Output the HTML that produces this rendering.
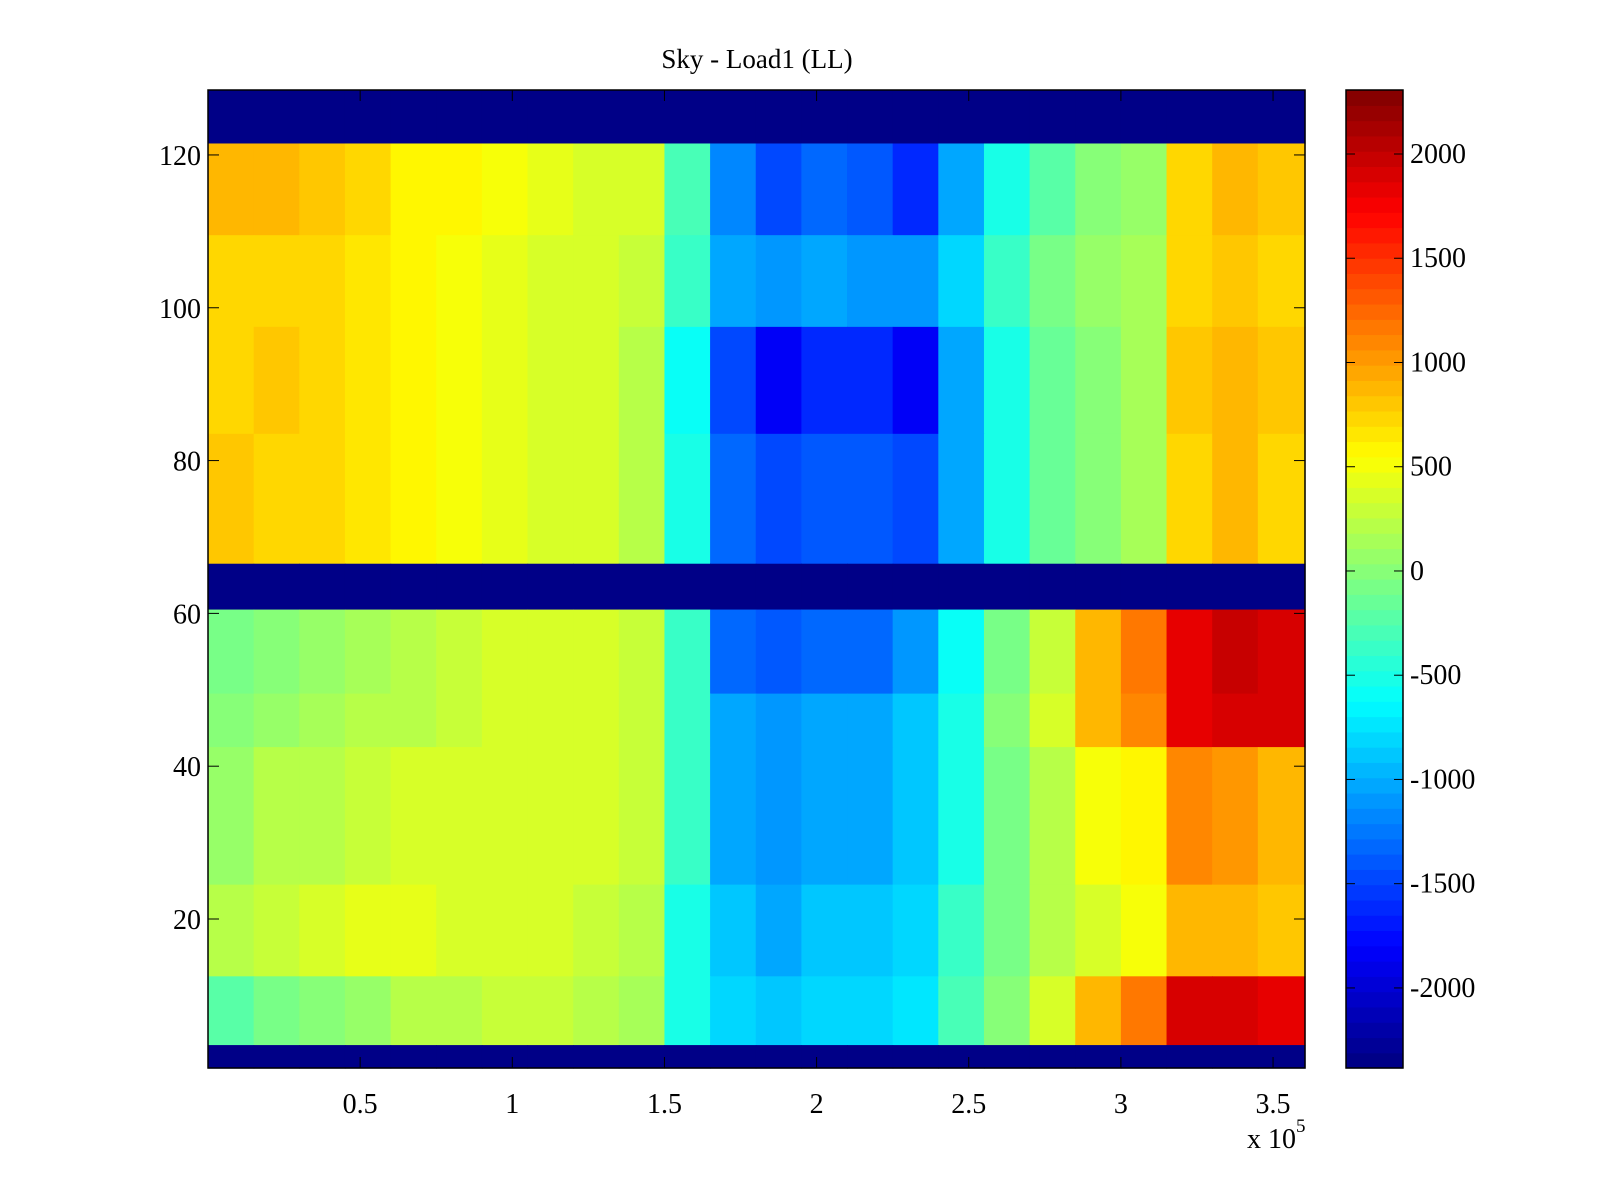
<!DOCTYPE html>
<html><head><meta charset="utf-8"><style>
html,body{margin:0;padding:0;background:#fff;}
body{width:1600px;height:1200px;overflow:hidden;position:relative;font-family:"Liberation Serif",serif;}
</style></head><body>
<svg id="chart" width="1600" height="1200" xmlns="http://www.w3.org/2000/svg" style="position:absolute;left:0;top:0;font-family:'Liberation Serif',serif">
<text x="757" y="68" font-size="27" text-anchor="middle">Sky - Load1 (LL)</text>
<g id="cells"></g>
<g id="cbar"></g>
<g id="axes"></g>
</svg>
<script>
const xTicks=[0.5,1,1.5,2,2.5,3,3.5];
const yTicks=[20,40,60,80,100,120];
const cTicks=[-2000,-1500,-1000,-500,0,500,1000,1500,2000];
const colEdges=[0,0.15,0.3,0.45,0.6,0.75,0.9,1.05,1.2,1.35,1.5,1.65,1.8,1.95,2.1,2.25,2.4,2.55,2.7,2.85,3.0,3.15,3.3,3.45,3.605];
const bandLo=[122,110,98,84,67,61,50,43,25,13,4,1];
const bandHi=[128,121,109,97,83,66,60,49,42,24,12,3];
const B=[850,850,800,700,600,550,500,450,400,350,-300,-1200,-1500,-1300,-1400,-1600,-1000,-500,-200,0,100,700,900,800];
const C=[700,750,700,650,550,500,450,400,350,300,-400,-1000,-1100,-1000,-1100,-1100,-800,-400,-100,50,150,700,800,700];
const D=[750,800,750,650,550,500,450,400,350,250,-600,-1500,-1800,-1600,-1600,-1800,-1000,-500,-150,0,150,800,900,800];
const E=[800,750,700,650,550,500,450,400,350,250,-500,-1300,-1500,-1400,-1400,-1500,-1000,-500,-150,0,150,750,850,750];
const G=[-100,0,100,150,250,300,350,400,350,300,-400,-1300,-1400,-1300,-1300,-1100,-600,-100,300,900,1200,1800,2000,1900];
const H=[0,100,150,200,250,300,350,400,350,300,-400,-1000,-1100,-1000,-1000,-900,-500,0,400,900,1100,1800,1900,1900];
const I=[100,200,250,300,350,400,400,400,350,300,-400,-1000,-1100,-1000,-1000,-900,-500,-100,200,500,600,1100,1000,900];
const J=[200,300,400,450,450,400,400,350,300,250,-500,-900,-1000,-900,-900,-800,-400,-100,200,400,500,900,900,800];
const K=[-200,-100,0,100,200,250,300,300,250,150,-500,-800,-900,-800,-800,-700,-300,0,400,900,1200,1900,1900,1800];
const MINV=-2384, MAXV=2307;
const blank=new Array(24).fill(MINV);
const bandVals=[blank,B,C,D,E,blank,G,H,I,J,K,blank];

const L=208,R=1305,T=90,Bo=1068,X0=0,X1=3.605,Y0=0.5,Y1=128.5;
const sx=v=>L+(v-X0)/(X1-X0)*(R-L);
const sy=v=>Bo-(v-Y0)/(Y1-Y0)*(Bo-T);
const CL=1346,CR=1403;
const cy=v=>Bo-(v-MINV)/(MAXV-MINV)*(Bo-T);
function jet(t){t=Math.max(0,Math.min(1,t));const r=Math.min(4*t-1.5,-4*t+4.5),g=Math.min(4*t-0.5,-4*t+3.5),b=Math.min(4*t+0.5,-4*t+2.5);const c=x=>Math.round(255*Math.max(0,Math.min(1,x)));return `rgb(${c(r)},${c(g)},${c(b)})`;}
function color(v){let k=Math.floor((v-MINV)/(MAXV-MINV)*64);k=Math.max(0,Math.min(63,k));return jet((k+0.5)/64);}
const NS="http://www.w3.org/2000/svg";
function mk(tag,at,parent){const e=document.createElementNS(NS,tag);for(const k in at)e.setAttribute(k,at[k]);parent.appendChild(e);return e;}
const cells=document.getElementById('cells');
bandVals.forEach((vals,bi)=>{
  vals.forEach((v,ci)=>{
    const x0=sx(colEdges[ci]),x1=sx(colEdges[ci+1]);
    const y0=sy(bandHi[bi]+0.5),y1=sy(bandLo[bi]-0.5);
    const r=mk('rect',{x:x0,y:y0,width:x1-x0+0.6,height:y1-y0+0.6,fill:color(v)},cells);
    
    
  });
});
const cb=document.getElementById('cbar');
for(let k=0;k<64;k++){
  const v0=MINV+k*(MAXV-MINV)/64,v1=MINV+(k+1)*(MAXV-MINV)/64;
  const r=mk('rect',{x:CL,y:cy(v1),width:CR-CL,height:cy(v0)-cy(v1)+0.6,fill:jet((k+0.5)/64)},cb);
  
  
}
mk('rect',{x:CL,y:T,width:CR-CL,height:Bo-T,fill:'none',stroke:'#000','stroke-width':1.5},cb);
cTicks.forEach(v=>{
  const y=cy(v);
  mk('line',{x1:CL,x2:CL+9,y1:y,y2:y,stroke:'#000'},cb);
  mk('line',{x1:CR-9,x2:CR,y1:y,y2:y,stroke:'#000'},cb);
  const t=mk('text',{x:1410,y:y+9,'font-size':28},cb);t.textContent=v;
  
  
});
const ax=document.getElementById('axes');
mk('rect',{x:L,y:T,width:R-L,height:Bo-T,fill:'none',stroke:'#000','stroke-width':1.5},ax);
xTicks.forEach(v=>{
  const x=sx(v);
  mk('line',{x1:x,x2:x,y1:Bo,y2:Bo-11,stroke:'#000'},ax);
  mk('line',{x1:x,x2:x,y1:T,y2:T+11,stroke:'#000'},ax);
  const t=mk('text',{x:x,y:1113,'font-size':28,'text-anchor':'middle'},ax);t.textContent=v;
  
  
});
yTicks.forEach(v=>{
  const y=sy(v);
  mk('line',{x1:L,x2:L+11,y1:y,y2:y,stroke:'#000'},ax);
  mk('line',{x1:R-11,x2:R,y1:y,y2:y,stroke:'#000'},ax);
  const t=mk('text',{x:201,y:y+10,'font-size':28,'text-anchor':'end'},ax);t.textContent=v;
  
  
});
const ex=mk('text',{x:1247,y:1148,'font-size':28},ax);


ex.innerHTML='x 10<tspan dy="-16" font-size="19">5</tspan>';
</script>
</body></html>
